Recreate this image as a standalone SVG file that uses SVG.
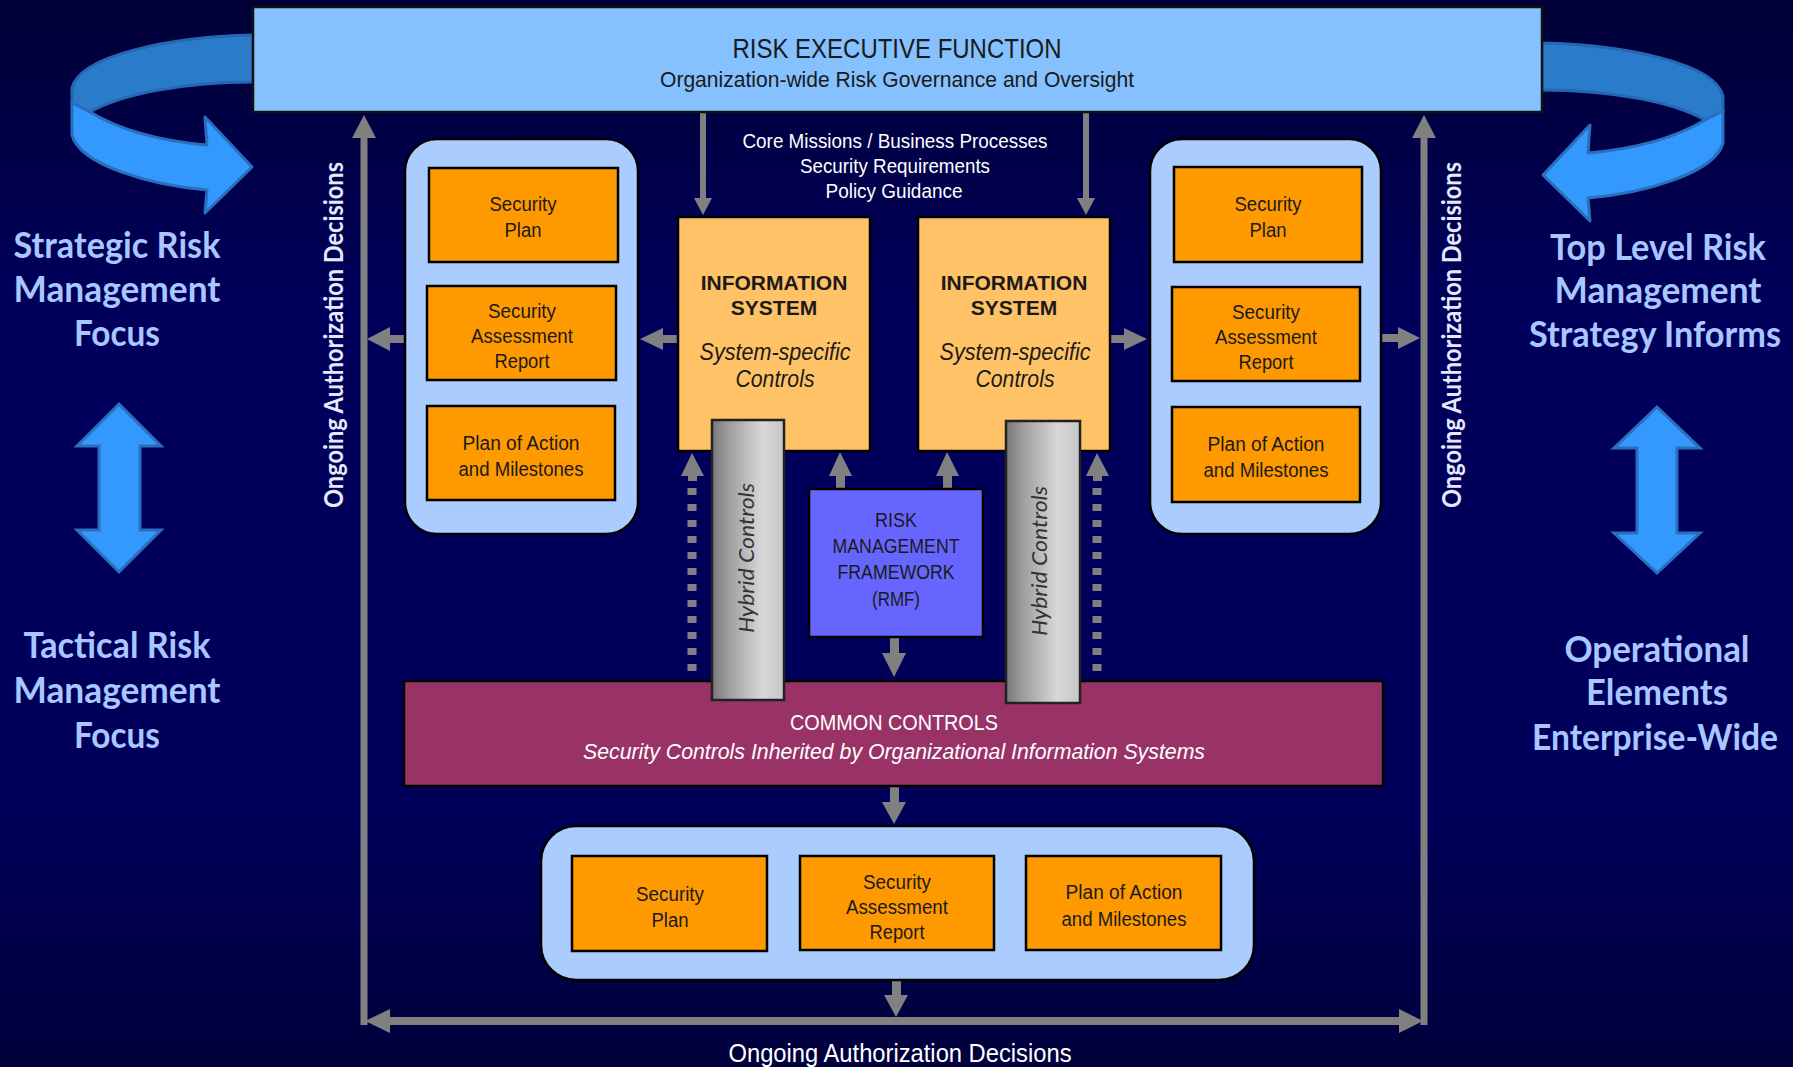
<svg xmlns="http://www.w3.org/2000/svg" width="1793" height="1067" viewBox="0 0 1793 1067">
<defs>
<linearGradient id="bg" x1="0" y1="0" x2="0" y2="1">
<stop offset="0" stop-color="#000036"/>
<stop offset="0.3" stop-color="#00005C"/>
<stop offset="0.75" stop-color="#00005A"/>
<stop offset="1" stop-color="#00003C"/>
</linearGradient>
<linearGradient id="cyl" x1="0" y1="0" x2="1" y2="0">
<stop offset="0" stop-color="#777"/>
<stop offset="0.2" stop-color="#9a9a9a"/>
<stop offset="0.7" stop-color="#d8d8d8"/>
<stop offset="1" stop-color="#c6c6c6"/>
</linearGradient>
<g id="curl">
<path class="back" d="M253,35 C170,37 80,55 72,88 L72,103 L90,112 C120,95 180,82 253,82 Z"/>
<path class="front" d="M72,103 L90,112 C120,130 160,141 207,145 L205,117 L252,167 L205,213 L207,190 C150,185 80,165 72,135 Z"/>
</g>
</defs>
<style>
.back{fill:#2B7BCB;stroke:#2566B5;stroke-width:3;stroke-linejoin:round}
.front{fill:#3399FF;stroke:#2A6EBE;stroke-width:3;stroke-linejoin:round}
.dbl{fill:#3399FF;stroke:#2A6EBE;stroke-width:3}
.panel{fill:#AACCFF;stroke:#000;stroke-width:2.5}
.ob{fill:#FF9900;stroke:#000;stroke-width:2.5}
.n{font-family:"Liberation Sans Narrow","Liberation Sans",Arial,sans-serif;text-anchor:middle;fill:#1a1a1a}
.s20{font-size:20px}
.big{font-family:Lato,"Open Sans",sans-serif;font-weight:bold;font-size:36px;fill:#A8C6FF;text-anchor:middle}
.vert{font-family:Lato,"Open Sans",sans-serif;font-weight:bold;font-size:26px;fill:#E4EAFA;text-anchor:middle}
.gray{fill:#808080}
.gl{stroke:#808080;fill:none}
.hyb{font-family:Lato,"Open Sans",sans-serif;font-style:italic;font-size:22px;fill:#333;text-anchor:middle}
</style>
<rect x="0" y="0" width="1793" height="1067" fill="url(#bg)"/>

<!-- side decorations -->
<g id="left-curl-arrow"><use href="#curl"/></g>
<g id="right-curl-arrow"><use href="#curl" transform="translate(1795,8) scale(-1,1)"/></g>
<g id="left-double-arrow"><polygon class="dbl" points="119,404 161,446 140,446 140,530 161,530 119,572 77,530 99,530 99,446 77,446"/></g>
<g id="right-double-arrow"><polygon class="dbl" points="1657,407 1700,448 1677,448 1677,533 1700,533 1657,573 1614,533 1637,533 1637,448 1614,448"/></g>

<g id="label-strategic">
<text class="big" x="117" y="258" textLength="207" lengthAdjust="spacingAndGlyphs">Strategic Risk</text>
<text class="big" x="117" y="302" textLength="207" lengthAdjust="spacingAndGlyphs">Management</text>
<text class="big" x="117" y="346" textLength="86" lengthAdjust="spacingAndGlyphs">Focus</text>
</g>
<g id="label-tactical">
<text class="big" x="117" y="658" textLength="187" lengthAdjust="spacingAndGlyphs">Tactical Risk</text>
<text class="big" x="117" y="703" textLength="207" lengthAdjust="spacingAndGlyphs">Management</text>
<text class="big" x="117" y="748" textLength="86" lengthAdjust="spacingAndGlyphs">Focus</text>
</g>
<g id="label-toplevel">
<text class="big" x="1658" y="260" textLength="216" lengthAdjust="spacingAndGlyphs">Top Level Risk</text>
<text class="big" x="1658" y="303" textLength="207" lengthAdjust="spacingAndGlyphs">Management</text>
<text class="big" x="1655" y="347" textLength="252" lengthAdjust="spacingAndGlyphs">Strategy Informs</text>
</g>
<g id="label-operational">
<text class="big" x="1657" y="662" textLength="185" lengthAdjust="spacingAndGlyphs">Operational</text>
<text class="big" x="1657" y="705" textLength="142" lengthAdjust="spacingAndGlyphs">Elements</text>
<text class="big" x="1655" y="750" textLength="246" lengthAdjust="spacingAndGlyphs">Enterprise-Wide</text>
</g>

<!-- connectors -->
<g id="connectors">
<line class="gl" x1="364" y1="136" x2="364" y2="1025" stroke-width="7"/>
<polygon class="gray" points="364,115 352,138 376,138"/>
<line class="gl" x1="1424" y1="136" x2="1424" y2="1025" stroke-width="7"/>
<polygon class="gray" points="1424,115 1412,138 1436,138"/>
<line class="gl" x1="389" y1="1021" x2="1400" y2="1021" stroke-width="8"/>
<polygon class="gray" points="365,1021 390,1009 390,1033"/>
<polygon class="gray" points="1423,1021 1399,1009 1399,1033"/>
<text class="vert" transform="translate(343,335) rotate(-90)" textLength="346" lengthAdjust="spacingAndGlyphs">Ongoing Authorization Decisions</text>
<text class="vert" transform="translate(1461,335) rotate(-90)" textLength="346" lengthAdjust="spacingAndGlyphs">Ongoing Authorization Decisions</text>
<text class="n" x="900" y="1062" font-size="26" style="fill:#fff" textLength="343" lengthAdjust="spacingAndGlyphs">Ongoing Authorization Decisions</text>

<rect class="gray" x="389" y="335" width="17" height="8"/>
<polygon class="gray" points="367,339 390,327 390,351"/>
<rect class="gray" x="662" y="335" width="17" height="8"/>
<polygon class="gray" points="640,339 663,328 663,350"/>
<rect class="gray" x="1109" y="335" width="16" height="8"/>
<polygon class="gray" points="1147,339 1124,328 1124,350"/>
<rect class="gray" x="1380" y="334" width="19" height="8"/>
<polygon class="gray" points="1420,338 1398,327 1398,349"/>

<rect class="gray" x="700" y="112" width="6" height="87"/>
<polygon class="gray" points="703,215 694,198 712,198"/>
<rect class="gray" x="1083" y="112" width="6" height="87"/>
<polygon class="gray" points="1086,215 1077,198 1095,198"/>

<rect class="gray" x="836" y="474" width="9" height="16"/>
<polygon class="gray" points="840,452 829,476 852,476"/>
<rect class="gray" x="943" y="474" width="9" height="16"/>
<polygon class="gray" points="947,452 936,476 959,476"/>

<polygon class="gray" points="692,453 681,476 704,476"/>
<rect class="gray" x="688" y="475" width="9" height="6"/>
<line class="gl" x1="692" y1="488" x2="692" y2="672" stroke-width="9" stroke-dasharray="7 9"/>
<polygon class="gray" points="1097,453 1086,476 1109,476"/>
<rect class="gray" x="1093" y="475" width="9" height="6"/>
<line class="gl" x1="1097" y1="488" x2="1097" y2="672" stroke-width="9" stroke-dasharray="7 9"/>

<rect class="gray" x="890" y="636" width="9" height="18"/>
<polygon class="gray" points="894,677 882,653 906,653"/>
<rect class="gray" x="890" y="786" width="9" height="17"/>
<polygon class="gray" points="894,824 882,802 906,802"/>
<rect class="gray" x="892" y="979" width="9" height="17"/>
<polygon class="gray" points="896,1017 884,995 908,995"/>

<g id="guidance-text">
<text class="n" x="895" y="148" font-size="21" style="fill:#fff" textLength="305" lengthAdjust="spacingAndGlyphs">Core Missions / Business Processes</text>
<text class="n" x="895" y="173" font-size="21" style="fill:#fff" textLength="190" lengthAdjust="spacingAndGlyphs">Security Requirements</text>
<text class="n" x="894" y="198" font-size="21" style="fill:#fff" textLength="137" lengthAdjust="spacingAndGlyphs">Policy Guidance</text>
</g>
</g>

<!-- top box -->
<g id="risk-executive">
<rect x="253" y="7" width="1289" height="105" fill="#85C1FF" stroke="#111" stroke-width="2.5"/>
<text class="n" x="897" y="58" font-size="28" textLength="329" lengthAdjust="spacingAndGlyphs">RISK EXECUTIVE FUNCTION</text>
<text class="n" x="897" y="87" font-size="22" textLength="474" lengthAdjust="spacingAndGlyphs">Organization-wide Risk Governance and Oversight</text>
</g>

<!-- left panel -->
<g id="left-artifacts">
<rect class="panel" x="405" y="139" width="233" height="395" rx="32"/>
<rect class="ob" x="429" y="168" width="189" height="94"/>
<text class="n s20" x="523" y="211" textLength="67" lengthAdjust="spacingAndGlyphs">Security</text>
<text class="n s20" x="523" y="237" textLength="37" lengthAdjust="spacingAndGlyphs">Plan</text>
<rect class="ob" x="427" y="286" width="189" height="94"/>
<text class="n s20" x="522" y="318" textLength="68" lengthAdjust="spacingAndGlyphs">Security</text>
<text class="n s20" x="522" y="343" textLength="102" lengthAdjust="spacingAndGlyphs">Assessment</text>
<text class="n s20" x="522" y="368" textLength="55" lengthAdjust="spacingAndGlyphs">Report</text>
<rect class="ob" x="427" y="406" width="188" height="94"/>
<text class="n s20" x="521" y="450" textLength="117" lengthAdjust="spacingAndGlyphs">Plan of Action</text>
<text class="n s20" x="521" y="476" textLength="125" lengthAdjust="spacingAndGlyphs">and Milestones</text>
</g>

<!-- right panel -->
<g id="right-artifacts">
<rect class="panel" x="1150" y="139" width="231" height="395" rx="32"/>
<rect class="ob" x="1174" y="167" width="188" height="95"/>
<text class="n s20" x="1268" y="211" textLength="67" lengthAdjust="spacingAndGlyphs">Security</text>
<text class="n s20" x="1268" y="237" textLength="37" lengthAdjust="spacingAndGlyphs">Plan</text>
<rect class="ob" x="1172" y="287" width="188" height="94"/>
<text class="n s20" x="1266" y="319" textLength="68" lengthAdjust="spacingAndGlyphs">Security</text>
<text class="n s20" x="1266" y="344" textLength="102" lengthAdjust="spacingAndGlyphs">Assessment</text>
<text class="n s20" x="1266" y="369" textLength="55" lengthAdjust="spacingAndGlyphs">Report</text>
<rect class="ob" x="1172" y="407" width="188" height="95"/>
<text class="n s20" x="1266" y="451" textLength="117" lengthAdjust="spacingAndGlyphs">Plan of Action</text>
<text class="n s20" x="1266" y="477" textLength="125" lengthAdjust="spacingAndGlyphs">and Milestones</text>
</g>

<!-- information systems -->
<g id="info-system-left">
<rect x="678" y="217" width="192" height="234" fill="#FFC266" stroke="#000" stroke-width="2.5"/>
<text x="774" y="290" font-family="Liberation Sans, Arial, sans-serif" font-weight="bold" font-size="21" text-anchor="middle" fill="#1a1a1a">INFORMATION</text>
<text x="774" y="315" font-family="Liberation Sans, Arial, sans-serif" font-weight="bold" font-size="21" text-anchor="middle" fill="#1a1a1a">SYSTEM</text>
<text class="n" x="775" y="360" font-size="23" font-style="italic" textLength="151" lengthAdjust="spacingAndGlyphs">System-specific</text>
<text class="n" x="775" y="387" font-size="23" font-style="italic" textLength="79" lengthAdjust="spacingAndGlyphs">Controls</text>
</g>
<g id="info-system-right">
<rect x="918" y="217" width="192" height="234" fill="#FFC266" stroke="#000" stroke-width="2.5"/>
<text x="1014" y="290" font-family="Liberation Sans, Arial, sans-serif" font-weight="bold" font-size="21" text-anchor="middle" fill="#1a1a1a">INFORMATION</text>
<text x="1014" y="315" font-family="Liberation Sans, Arial, sans-serif" font-weight="bold" font-size="21" text-anchor="middle" fill="#1a1a1a">SYSTEM</text>
<text class="n" x="1015" y="360" font-size="23" font-style="italic" textLength="151" lengthAdjust="spacingAndGlyphs">System-specific</text>
<text class="n" x="1015" y="387" font-size="23" font-style="italic" textLength="79" lengthAdjust="spacingAndGlyphs">Controls</text>
</g>

<!-- RMF -->
<g id="rmf">
<rect x="809" y="489" width="174" height="148" fill="#6666FF" stroke="#000" stroke-width="2.5"/>
<text class="n s20" x="896" y="527" textLength="42" lengthAdjust="spacingAndGlyphs">RISK</text>
<text class="n s20" x="896" y="553" textLength="127" lengthAdjust="spacingAndGlyphs">MANAGEMENT</text>
<text class="n s20" x="896" y="579" textLength="117" lengthAdjust="spacingAndGlyphs">FRAMEWORK</text>
<text class="n s20" x="896" y="606" textLength="48" lengthAdjust="spacingAndGlyphs">(RMF)</text>
</g>

<!-- common controls -->
<g id="common-controls">
<rect x="404" y="681" width="979" height="105" fill="#993366" stroke="#000" stroke-width="2.5"/>
<text class="n" x="894" y="730" font-size="22" style="fill:#fff" textLength="208" lengthAdjust="spacingAndGlyphs">COMMON CONTROLS</text>
<text class="n" x="894" y="759" font-size="22" font-style="italic" style="fill:#fff" textLength="622" lengthAdjust="spacingAndGlyphs">Security Controls Inherited by Organizational Information Systems</text>
</g>

<!-- hybrid controls -->
<g id="hybrid-left">
<rect x="712" y="420" width="72" height="280" fill="url(#cyl)" stroke="#222" stroke-width="2.5"/>
<text class="hyb" transform="translate(754,558) rotate(-90)" textLength="150" lengthAdjust="spacingAndGlyphs">Hybrid Controls</text>
</g>
<g id="hybrid-right">
<rect x="1006" y="421" width="74" height="282" fill="url(#cyl)" stroke="#222" stroke-width="2.5"/>
<text class="hyb" transform="translate(1047,561) rotate(-90)" textLength="150" lengthAdjust="spacingAndGlyphs">Hybrid Controls</text>
</g>

<!-- bottom panel -->
<g id="bottom-artifacts">
<rect class="panel" x="541" y="826" width="713" height="154" rx="35"/>
<rect class="ob" x="572" y="856" width="195" height="95"/>
<text class="n s20" x="670" y="901" textLength="68" lengthAdjust="spacingAndGlyphs">Security</text>
<text class="n s20" x="670" y="927" textLength="37" lengthAdjust="spacingAndGlyphs">Plan</text>
<rect class="ob" x="800" y="856" width="194" height="94"/>
<text class="n s20" x="897" y="889" textLength="68" lengthAdjust="spacingAndGlyphs">Security</text>
<text class="n s20" x="897" y="914" textLength="102" lengthAdjust="spacingAndGlyphs">Assessment</text>
<text class="n s20" x="897" y="939" textLength="55" lengthAdjust="spacingAndGlyphs">Report</text>
<rect class="ob" x="1026" y="856" width="195" height="94"/>
<text class="n s20" x="1124" y="899" textLength="117" lengthAdjust="spacingAndGlyphs">Plan of Action</text>
<text class="n s20" x="1124" y="926" textLength="125" lengthAdjust="spacingAndGlyphs">and Milestones</text>
</g>
</svg>
